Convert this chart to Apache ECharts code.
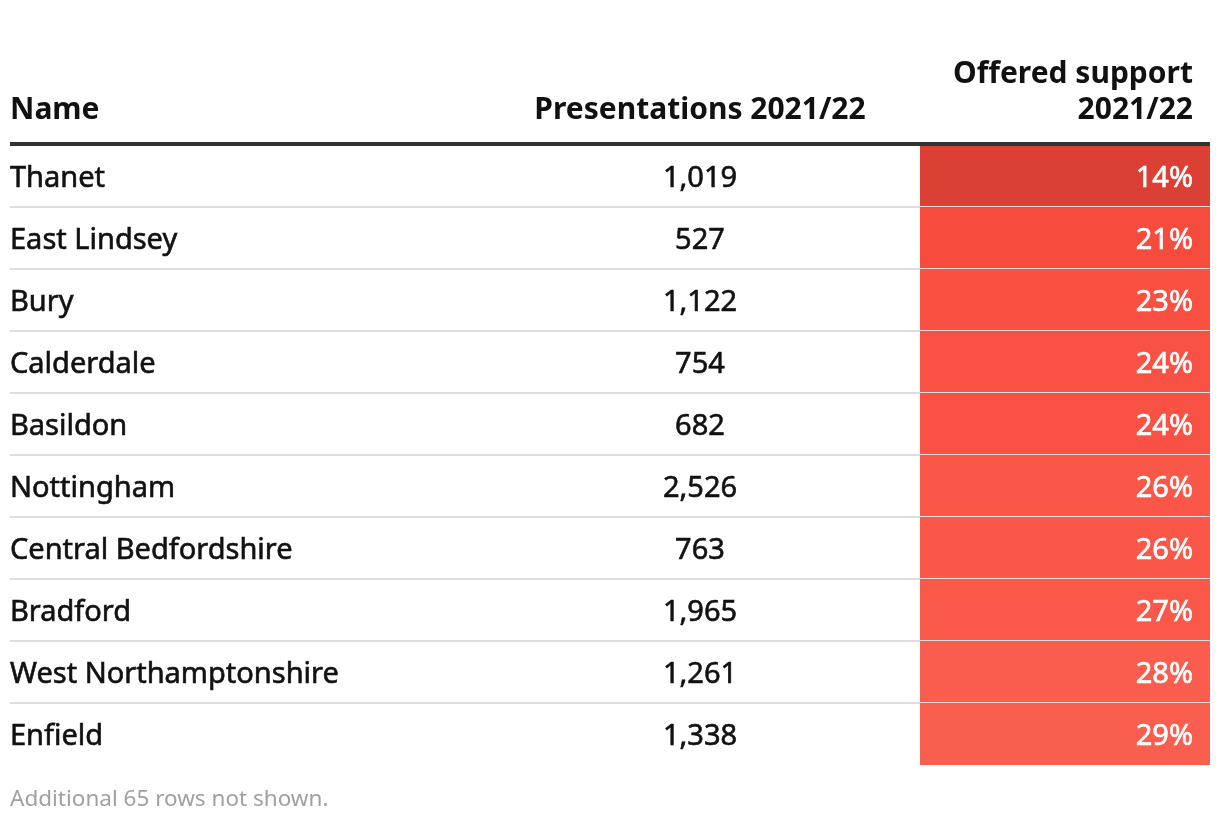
<!DOCTYPE html>
<html>
<head>
<meta charset="utf-8">
<script src="https://cdn.jsdelivr.net/npm/echarts@6/dist/echarts.min.js"></script>
<style>
html,body{margin:0;padding:0;background:#fff;}
#chart{width:1220px;height:828px;}
</style>
</head>
<body>
<div id="chart"></div>
<script>
const names = ["Thanet","East Lindsey","Bury","Calderdale","Basildon","Nottingham","Central Bedfordshire","Bradford","West Northamptonshire","Enfield"];
const presentations = [1019,527,1122,754,682,2526,763,1965,1261,1338];
const offeredPct = [14,21,23,24,24,26,26,27,28,29];
const headers = ["Name","Presentations 2021/22","Offered support\n2021/22"];
const footnote = "Additional 65 rows not shown.";

const FONT = '"Noto Sans", sans-serif';
const BODY = '29px ' + FONT;
const HEAD = 'bold 30px ' + FONT;
const chart = echarts.init(document.getElementById('chart'), null, {renderer:'canvas'});

const rows = names.map((n,i)=>[0, i, presentations[i], offeredPct[i]]);
const fmt = v => v.toLocaleString('en-GB');
const TY = 3; // optical offset so cap height is centred

chart.setOption({
  animation:false,
  grid:{left:10, right:10, top:145, height:620},
  xAxis:{type:'value', min:0, max:1200, show:false},
  yAxis:{type:'category', data:names, inverse:true, show:false},
  visualMap:{show:false, type:'continuous', dimension:3, seriesIndex:0, min:14, max:29,
    inRange:{color:['#dc3f33','#f94c3e','#fa5e4f']}},
  series:[{
    type:'custom',
    clip:false,
    encode:{x:0, y:1},
    data:rows,
    renderItem:function(params, api){
      const i = api.value(1);
      const c = api.coord([0, i]);
      const rowH = api.size([0,1])[1];
      const top = c[1] - rowH/2;
      const left = c[0];
      const mid = api.coord([690,i])[0];
      const cellL = api.coord([910,i])[0];
      const cellR = api.coord([1200,i])[0];
      const ty = c[1] + TY;
      const dark = {font:BODY, fill:'#111', stroke:'#111', lineWidth:0.6, verticalAlign:'middle'};
      const children = [
        {type:'rect', shape:{x:cellL, y:top, width:cellR-cellL, height:rowH}, style:{fill:api.visual('color')}},
        {type:'text', style:Object.assign({text:names[i], x:left, y:ty, align:'left'}, dark)},
        {type:'text', style:Object.assign({text:fmt(api.value(2)), x:mid, y:ty, align:'center'}, dark)},
        {type:'text', style:{text:api.value(3)+'%', x:cellR-17, y:ty, align:'right', verticalAlign:'middle', font:BODY, fill:'#fff', stroke:'#fff', lineWidth:0.6}}
      ];
      if (i < names.length-1) {
        children.push({type:'line', shape:{x1:left, y1:top+rowH, x2:cellR, y2:top+rowH}, style:{stroke:'#dddddd', lineWidth:2}});
      }
      return {type:'group', children:children};
    }
  }],
  graphic:[
    {type:'text', x:10, y:107+TY, style:{text:headers[0], font:HEAD, fill:'#111', align:'left', verticalAlign:'middle'}},
    {type:'text', x:700, y:107+TY, style:{text:headers[1], font:HEAD, fill:'#111', align:'center', verticalAlign:'middle'}},
    {type:'text', x:1193, y:71.5+TY, style:{text:headers[2].split('\n')[0], font:HEAD, fill:'#111', align:'right', verticalAlign:'middle'}},
    {type:'text', x:1193, y:107+TY, style:{text:headers[2].split('\n')[1], font:HEAD, fill:'#111', align:'right', verticalAlign:'middle'}},
    {type:'rect', z:10, shape:{x:10, y:142, width:1200, height:4}, style:{fill:'#333333'}},
    {type:'text', x:10, y:797+TY, style:{text:footnote, font:'22.5px '+FONT, fill:'#a0a0a0', align:'left', verticalAlign:'middle'}}
  ]
});
</script>
</body>
</html>
